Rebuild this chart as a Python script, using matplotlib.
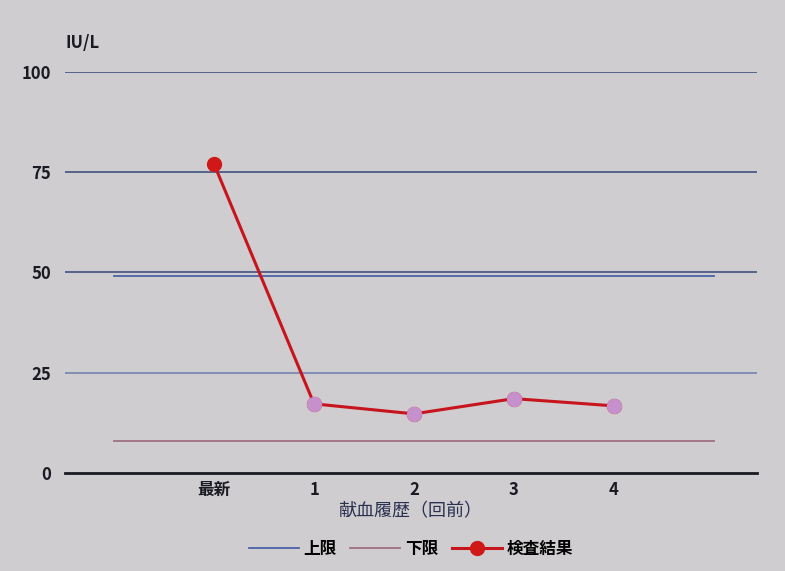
import matplotlib.pyplot as plt
import numpy as np

plt.rcParams['font.family'] = ['Noto Sans CJK JP', 'DejaVu Sans']

categories = ["最新", "1", "2", "3", "4"]
results = [77, 17.2, 14.7, 18.5, 16.7]
upper_limit = 49
lower_limit = 8
limit_span = [-1, 5]
y_ticks = [0, 25, 50, 75, 100]

bg = '#cfcdcf'
fig = plt.figure(figsize=(7.85, 5.71), dpi=100, facecolor=bg)
ax = fig.add_axes([0.083, 0.172, 0.881, 0.702], facecolor=bg)

x = np.arange(len(categories))

# grid lines
for t in y_ticks[1:]:
    ax.axhline(t, color='#4d5a88' if t != 25 else '#7d8ab0', lw=1.3, zorder=1)

ax.plot(limit_span, [upper_limit, upper_limit], color='#4a62a8', lw=1.3, zorder=2, label='上限')
ax.plot(limit_span, [lower_limit, lower_limit], color='#a07080', lw=1.3, zorder=2, label='下限')

ax.plot(x, results, color='#c8141c', lw=2.2, zorder=3, marker='o', ms=10,
        mfc='#d01818', mec='#d01818', label='検査結果')
ax.scatter(x[1:], results[1:], s=100, color='#c690cc', zorder=4)

ax.set_xlim(-1.49, 5.43)
ax.set_ylim(0, 100)
ax.set_xticks(x)
ax.set_xticklabels(categories)
ax.set_yticks(y_ticks)
ax.tick_params(length=0, labelsize=12, pad=6)
ax.tick_params(axis='y', pad=10)
for lbl in ax.get_xticklabels() + ax.get_yticklabels():
    lbl.set_fontweight('bold')
    lbl.set_color('#1a1a22')

for s in ['top', 'right', 'left']:
    ax.spines[s].set_visible(False)
ax.spines['bottom'].set_color('#1a1a22')
ax.spines['bottom'].set_linewidth(2)

ax.text(0.0, 1.05, 'IU/L', transform=ax.transAxes, fontsize=12,
        fontweight='bold', color='#1a1a22', va='bottom')
ax.set_xlabel('献血履歴（回前）', fontsize=13, color='#2a3050', labelpad=2)

leg = ax.legend(loc='upper center', bbox_to_anchor=(0.5, -0.13), ncol=3,
                frameon=False, fontsize=12, handlelength=3, columnspacing=0.8,
                handletextpad=0.3)
for t in leg.get_texts():
    t.set_fontweight('bold')

plt.savefig('out.png', dpi=100, facecolor=bg)
